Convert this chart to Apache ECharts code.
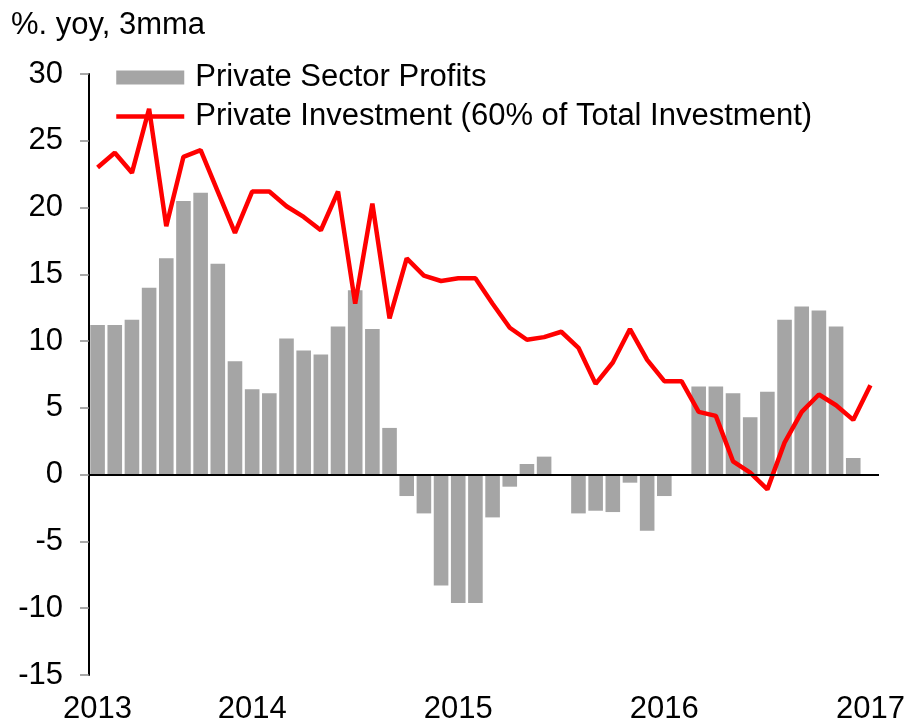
<!DOCTYPE html>
<html>
<head>
<meta charset="utf-8">
<script src="https://cdn.jsdelivr.net/npm/echarts@6/dist/echarts.min.js"></script>
<style>
  html, body { margin: 0; padding: 0; background: #fff; }
  #chart { width: 910px; height: 725px; }
</style>
</head>
<body>
<div id="chart"></div>
<script>
// months, Apr 2013 .. Jan 2017
var months = [
  '2013-04','2013-05','2013-06','2013-07','2013-08','2013-09','2013-10','2013-11','2013-12',
  '2014-01','2014-02','2014-03','2014-04','2014-05','2014-06','2014-07','2014-08','2014-09','2014-10','2014-11','2014-12',
  '2015-01','2015-02','2015-03','2015-04','2015-05','2015-06','2015-07','2015-08','2015-09','2015-10','2015-11','2015-12',
  '2016-01','2016-02','2016-03','2016-04','2016-05','2016-06','2016-07','2016-08','2016-09','2016-10','2016-11','2016-12',
  '2017-01'
];

// months that get a year label
var yearTicks = ['2013-04', '2014-01', '2015-01', '2016-01', '2017-01'];

// Private Sector Profits, %. yoy 3mma (bars)
var profits = [
  11.2, 11.2, 11.6, 14.0, 16.2, 20.5, 21.1, 15.8, 8.5,
  6.4, 6.1, 10.2, 9.3, 9.0, 11.1, 13.8, 10.9, 3.5, -1.6, -2.9, -8.3,
  -9.6, -9.6, -3.2, -0.9, 0.8, 1.35, null, -2.9, -2.7, -2.8, -0.6, -4.2,
  -1.6, null, 6.6, 6.6, 6.1, 4.3, 6.2, 11.6, 12.6, 12.3, 11.1, 1.25,
  null
];

// Private Investment (60% of Total Investment) (line)
var investment = [
  23.0, 24.1, 22.6, 27.4, 18.6, 23.8, 24.3, 21.2, 18.1,
  21.2, 21.2, 20.1, 19.3, 18.3, 21.2, 12.8, 20.3, 11.7, 16.2, 14.9, 14.5,
  14.7, 14.7, 12.8, 11.0, 10.1, 10.3, 10.7, 9.5, 6.8, 8.4, 10.9, 8.6,
  7.0, 7.0, 4.7, 4.4, 1.0, 0.15, -1.1, 2.4, 4.7, 6.0, 5.2, 4.1,
  6.7
];

var FONT = '"Liberation Sans", Arial, sans-serif';
var FS = 31;

var chart = echarts.init(document.getElementById('chart'));
chart.setOption({
  animation: false,
  textStyle: { fontFamily: FONT },
  title: {
    text: '%. yoy, 3mma',
    left: 11, top: 10, padding: 0,
    textStyle: { fontFamily: FONT, fontSize: FS, fontWeight: 'normal', color: '#000' }
  },
  legend: {
    orient: 'vertical',
    left: 114, top: 62, padding: 0,
    itemWidth: 68, itemHeight: 14,
    itemGap: 8,
    textStyle: { fontFamily: FONT, fontSize: FS, color: '#000', padding: [0, 0, 0, 6] },
    data: [
      { name: 'Private Sector Profits', icon: 'rect' },
      {
        name: 'Private Investment (60% of Total Investment)',
        itemStyle: { opacity: 0 },
        lineStyle: { width: 4.5, color: '#ff0000' }
      }
    ]
  },
  grid: { left: 89, right: 31, top: 74, bottom: 50 },
  xAxis: {
    type: 'category',
    data: months,
    axisLine: { show: false, onZero: false },
    axisTick: { show: false },
    axisLabel: {
      interval: function (i, v) { return yearTicks.indexOf(v) >= 0; },
      formatter: function (v) { return v.slice(0, 4); },
      fontFamily: FONT, fontSize: FS, color: '#000', margin: 19
    },
    splitLine: { show: false }
  },
  yAxis: {
    type: 'value',
    min: -15, max: 30, interval: 5,
    axisLine: { show: true, lineStyle: { color: '#000', width: 2 } },
    axisTick: { show: true, length: 9, lineStyle: { color: '#8c8c8c', width: 1.5 } },
    axisLabel: { fontFamily: FONT, fontSize: FS, color: '#000', margin: 26 },
    splitLine: { show: false }
  },
  series: [
    {
      name: 'Private Sector Profits',
      type: 'bar',
      data: profits,
      barCategoryGap: '15%',
      itemStyle: { color: '#a5a5a5' },
      markLine: {
        silent: true,
        symbol: 'none',
        label: { show: false },
        lineStyle: { color: '#000', width: 2, type: 'solid' },
        data: [{ yAxis: 0 }]
      },
      z: 2
    },
    {
      name: 'Private Investment (60% of Total Investment)',
      type: 'line',
      data: investment,
      symbol: 'none',
      lineStyle: { color: '#ff0000', width: 4.5 },
      itemStyle: { color: '#ff0000' },
      z: 3
    }
  ]
});
</script>
</body>
</html>
